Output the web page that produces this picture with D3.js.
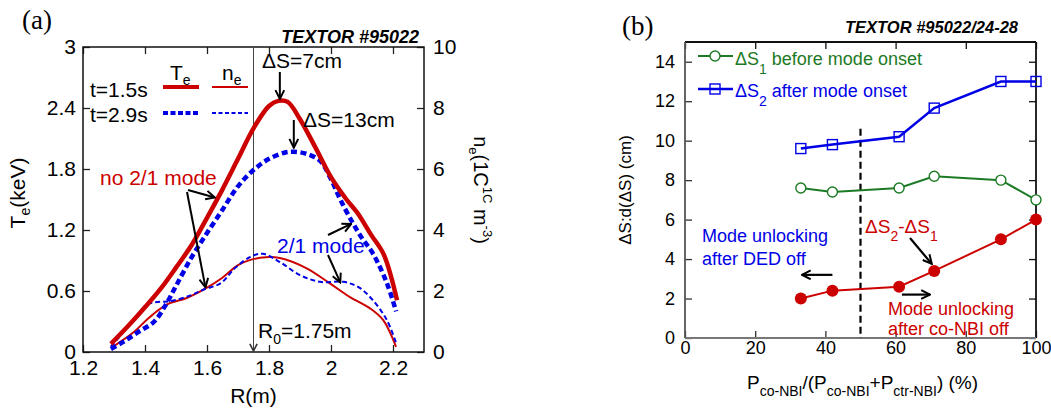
<!DOCTYPE html>
<html>
<head>
<meta charset="utf-8">
<script src="https://cdn.jsdelivr.net/npm/d3@7"></script>
<style>
  body { margin: 0; background: #fff; }
  svg { display: block; font-family: "Liberation Sans", Arial, sans-serif; }
</style>
</head>
<body>
<svg id="fig" width="1051" height="412"></svg>
<script>
// ---- Panel (a): profiles, [R (m), value] ----
const te15 = [[1.29,0.08],[1.35,0.27],[1.40,0.44],[1.45,0.62],[1.50,0.83],[1.55,1.05],[1.60,1.32],
  [1.65,1.60],[1.70,1.90],[1.75,2.20],[1.80,2.42],[1.83,2.47],[1.86,2.46],[1.90,2.29],[1.95,2.01],
  [2.00,1.72],[2.05,1.50],[2.085,1.37],[2.13,1.15],[2.17,0.96],[2.213,0.51]];
const te29 = [[1.29,0.03],[1.33,0.10],[1.38,0.20],[1.43,0.30],[1.47,0.48],[1.50,0.65],[1.55,0.93],
  [1.60,1.17],[1.65,1.40],[1.70,1.63],[1.75,1.79],[1.80,1.90],[1.85,1.96],[1.88,1.97],[1.92,1.95],
  [1.965,1.88],[2.00,1.70],[2.03,1.50],[2.07,1.27],[2.10,1.12],[2.135,0.97],[2.18,0.68],[2.21,0.40]];
const ne15 = [[1.29,0.13],[1.36,0.62],[1.405,1.05],[1.44,1.35],[1.48,1.60],[1.535,1.77],[1.59,2.05],
  [1.645,2.40],[1.70,2.85],[1.74,3.02],[1.79,3.11],[1.835,3.08],[1.92,2.75],[1.995,2.26],[2.06,1.81],
  [2.126,1.43],[2.168,1.05],[2.21,0.17]];
const ne29 = [[1.29,0.18],[1.33,0.65],[1.37,1.15],[1.405,1.55],[1.44,1.64],[1.48,1.66],[1.545,1.85],
  [1.59,2.05],[1.645,2.26],[1.69,2.75],[1.74,3.12],[1.78,3.22],[1.835,2.95],[1.90,2.52],[1.965,2.30],
  [2.04,2.30],[2.09,2.12],[2.135,1.70],[2.18,1.05],[2.21,0.30]];
const rTicks = [1.2, 1.4, 1.6, 1.8, 2, 2.2];
const teTicks = [0, 0.6, 1.2, 1.8, 2.4, 3];
const neTicks = [0, 2, 4, 6, 8, 10];

// ---- Panel (b): widths vs co-NBI fraction ----
const power = [33, 42, 61, 71, 90, 100];
const dS1 = [7.6, 7.4, 7.6, 8.2, 8.0, 7.0];
const dS2 = [9.6, 9.8, 10.2, 11.65, 13.0, 13.0];
const dDiff = [2.0, 2.4, 2.6, 3.4, 5.0, 6.0];
const pTicks = [0, 20, 40, 60, 80, 100];
const dsTicks = [0, 2, 4, 6, 8, 10, 12, 14];

const RED = "#cc0000", BLUE = "#0000e6", GREEN = "#1d7a24";
const SERIF = "'Liberation Serif', 'Times New Roman', serif";

const svg = d3.select("#fig");

// arrow head
const defs = svg.append("defs");
function marker(id, color, size) {
  defs.append("marker")
    .attr("id", id).attr("viewBox", "0 0 10 10")
    .attr("refX", 9).attr("refY", 5)
    .attr("markerWidth", size).attr("markerHeight", size)
    .attr("markerUnits", "userSpaceOnUse").attr("orient", "auto")
    .append("path").attr("d", "M1,1 L9,5 L1,9")
    .attr("fill", "none").attr("stroke", color).attr("stroke-width", 1.8);
}
marker("arr", "#000", 11);
marker("arrGray", "#333", 9);

function arrow(g, x1, y1, x2, y2, w = 2, id = "arr", color = "#000") {
  g.append("line").attr("x1", x1).attr("y1", y1).attr("x2", x2).attr("y2", y2)
    .attr("stroke", color).attr("stroke-width", w).attr("marker-end", `url(#${id})`);
}

function styleAxis(g, size, color) {
  g.select(".domain").remove();
  g.selectAll(".tick line").attr("stroke", color).attr("stroke-width", 1.3);
  g.selectAll(".tick text").attr("fill", "#000").attr("font-size", size)
    .attr("font-family", "'Liberation Sans', Arial, sans-serif");
}

// =================== Panel (a) ===================
const A = { l: 83, r: 424, t: 47, b: 352 };
const xA = d3.scaleLinear([1.2, 2.3], [A.l, A.r]);
const yTe = d3.scaleLinear([0, 3], [A.b, A.t]);
const yNe = d3.scaleLinear([0, 10], [A.b, A.t]);
const ga = svg.append("g");

ga.append("g").attr("transform", `translate(0,${A.b})`)
  .call(d3.axisBottom(xA).tickValues(rTicks).tickFormat(d3.format("")).tickSizeInner(-7).tickSizeOuter(0).tickPadding(8))
  .call(g => styleAxis(g, 21, "#222"));
ga.append("g").attr("transform", `translate(0,${A.t})`)
  .call(d3.axisTop(xA).tickValues(rTicks).tickFormat("").tickSizeInner(-7).tickSizeOuter(0))
  .call(g => styleAxis(g, 21, "#222"));
ga.append("g").attr("transform", `translate(${A.l},0)`)
  .call(d3.axisLeft(yTe).tickValues(teTicks).tickFormat(d3.format("")).tickSizeInner(-7).tickSizeOuter(0).tickPadding(7))
  .call(g => styleAxis(g, 21, "#222"));
ga.append("g").attr("transform", `translate(${A.r},0)`)
  .call(d3.axisRight(yNe).tickValues(neTicks).tickSizeInner(-7).tickSizeOuter(0).tickPadding(9))
  .call(g => styleAxis(g, 21, "#222"));
ga.append("rect").attr("x", A.l).attr("y", A.t).attr("width", A.r - A.l).attr("height", A.b - A.t)
  .attr("fill", "none").attr("stroke", "#111").attr("stroke-width", 1.5);

// R0 line
ga.append("line").attr("x1", xA(1.75)).attr("x2", xA(1.75)).attr("y1", A.t).attr("y2", A.b - 1)
  .attr("stroke", "#444").attr("stroke-width", 1).attr("marker-end", "url(#arrGray)");

const lineTe = d3.line().x(d => xA(d[0])).y(d => yTe(d[1])).curve(d3.curveCatmullRom);
const lineNe = d3.line().x(d => xA(d[0])).y(d => yNe(d[1])).curve(d3.curveCatmullRom);

ga.append("path").attr("d", lineNe(ne15)).attr("fill", "none").attr("stroke", RED).attr("stroke-width", 2);
ga.append("path").attr("d", lineNe(ne29)).attr("fill", "none").attr("stroke", BLUE).attr("stroke-width", 2)
  .attr("stroke-dasharray", "5,3");
ga.append("path").attr("d", lineTe(te29)).attr("fill", "none").attr("stroke", BLUE).attr("stroke-width", 4.5)
  .attr("stroke-dasharray", "6,3.5");
ga.append("path").attr("d", lineTe(te15)).attr("fill", "none").attr("stroke", RED).attr("stroke-width", 4.5);

// legend
const legA = ga.append("g").attr("font-size", 21);
legA.append("text").attr("x", 170).attr("y", 80).text("T")
  .append("tspan").attr("font-size", 14).attr("dy", 5).text("e");
legA.append("text").attr("x", 222).attr("y", 80).text("n")
  .append("tspan").attr("font-size", 14).attr("dy", 5).text("e");
legA.append("text").attr("x", 90).attr("y", 97).text("t=1.5s");
legA.append("text").attr("x", 90).attr("y", 122).text("t=2.9s");
legA.append("line").attr("x1", 163).attr("x2", 199).attr("y1", 87).attr("y2", 87).attr("stroke", RED).attr("stroke-width", 4);
legA.append("line").attr("x1", 212).attr("x2", 248).attr("y1", 87).attr("y2", 87).attr("stroke", RED).attr("stroke-width", 2);
legA.append("line").attr("x1", 163).attr("x2", 199).attr("y1", 113).attr("y2", 113).attr("stroke", BLUE).attr("stroke-width", 4).attr("stroke-dasharray", "5,2.5");
legA.append("line").attr("x1", 212).attr("x2", 248).attr("y1", 113).attr("y2", 113).attr("stroke", BLUE).attr("stroke-width", 2).attr("stroke-dasharray", "4,2.5");

// labels
ga.append("text").attr("x", 22).attr("y", 29).attr("font-size", 27)
  .style("font-family", SERIF).text("(a)");
ga.append("text").attr("x", 419).attr("y", 43).attr("text-anchor", "end").attr("font-size", 18)
  .attr("font-weight", "bold").attr("font-style", "italic").text("TEXTOR #95022");
ga.append("text").attr("x", xA(1.75)).attr("y", 403).attr("text-anchor", "middle").attr("font-size", 21).text("R(m)");

const teLab = ga.append("text").attr("transform", `translate(25,193) rotate(-90)`)
  .attr("text-anchor", "middle").attr("font-size", 21);
teLab.append("tspan").text("T");
teLab.append("tspan").attr("font-size", 14).attr("dy", 5).text("e");
teLab.append("tspan").attr("dy", -5).text("(keV)");

const neLab = ga.append("text").attr("transform", `translate(474,190) rotate(90)`)
  .attr("text-anchor", "middle").attr("font-size", 20);
neLab.append("tspan").text("n");
neLab.append("tspan").attr("font-size", 13).attr("dy", 5).text("e");
neLab.append("tspan").attr("dy", -5).text("(1C");
neLab.append("tspan").attr("font-size", 13).attr("dy", -9).text("1C");
neLab.append("tspan").attr("dy", 9).text(" m");
neLab.append("tspan").attr("font-size", 13).attr("dy", -9).text("-3");
neLab.append("tspan").attr("dy", 9).text(")");

// annotations
const ann = ga.append("g").attr("font-size", 21);
ann.append("text").attr("x", 262).attr("y", 68).text("ΔS=7cm");
arrow(ann, xA(1.835), 72, xA(1.835), yTe(2.47) - 2);
ann.append("text").attr("x", 303).attr("y", 127).text("ΔS=13cm");
arrow(ann, xA(1.88), 120, xA(1.88), yTe(1.97) - 4);
ann.append("text").attr("x", 100).attr("y", 185).attr("fill", RED).text("no 2/1 mode");
arrow(ann, 188, 190, xA(1.625), yTe(1.52));
arrow(ann, 187, 192, xA(1.595), yNe(2.12));
ann.append("text").attr("x", 277).attr("y", 253).attr("fill", BLUE).text("2/1 mode");
arrow(ann, 328, 235, xA(2.065), yTe(1.26));
arrow(ann, 328, 255, xA(2.03), yNe(2.28));
const r0 = ann.append("text").attr("x", 258).attr("y", 338);
r0.append("tspan").text("R");
r0.append("tspan").attr("font-size", 14).attr("dy", 6).text("0");
r0.append("tspan").attr("dy", -6).text("=1.75m");

// =================== Panel (b) ===================
const B = { l: 685, r: 1036, t: 42, b: 338 };
const xB = d3.scaleLinear([0, 100], [B.l, B.r]);
const yB = d3.scaleLinear([0, 15], [B.b, B.t]);
const gb = svg.append("g");

gb.append("g").attr("transform", `translate(0,${B.b})`)
  .call(d3.axisBottom(xB).tickValues(pTicks).tickSizeInner(-7).tickSizeOuter(0).tickPadding(3))
  .call(g => styleAxis(g, 18, "#333"));
gb.append("g").attr("transform", `translate(0,${B.t})`)
  .call(d3.axisTop(xB).tickValues(pTicks).tickFormat("").tickSizeInner(-7).tickSizeOuter(0))
  .call(g => styleAxis(g, 18, "#111"));
gb.append("g").attr("transform", `translate(${B.l},0)`)
  .call(d3.axisLeft(yB).tickValues(dsTicks).tickSizeInner(-7).tickSizeOuter(0).tickPadding(10))
  .call(g => styleAxis(g, 18, "#333"));
gb.append("g").attr("transform", `translate(${B.r},0)`)
  .call(d3.axisRight(yB).tickValues(dsTicks).tickFormat("").tickSizeInner(-7).tickSizeOuter(0))
  .call(g => styleAxis(g, 18, "#111"));
gb.append("line").attr("x1", B.l).attr("x2", B.r).attr("y1", B.t).attr("y2", B.t).attr("stroke", "#111").attr("stroke-width", 1.8);
gb.append("line").attr("x1", B.r).attr("x2", B.r).attr("y1", B.t).attr("y2", B.b).attr("stroke", "#111").attr("stroke-width", 1.8);
gb.append("line").attr("x1", B.l).attr("x2", B.r).attr("y1", B.b).attr("y2", B.b).attr("stroke", "#777").attr("stroke-width", 2);
gb.append("line").attr("x1", B.l).attr("x2", B.l).attr("y1", B.t).attr("y2", B.b).attr("stroke", "#555").attr("stroke-width", 1.8);

// dashed divider at 50 %
gb.append("line").attr("x1", xB(50)).attr("x2", xB(50)).attr("y1", yB(10.6)).attr("y2", B.b)
  .attr("stroke", "#000").attr("stroke-width", 2.2).attr("stroke-dasharray", "7,4");

const lineB = vals => d3.line().x((d, i) => xB(power[i])).y(d => yB(d))(vals);

gb.append("path").attr("d", lineB(dS1)).attr("fill", "none").attr("stroke", GREEN).attr("stroke-width", 2);
gb.selectAll("circle.s1").data(dS1).join("circle").attr("class", "s1")
  .attr("cx", (d, i) => xB(power[i])).attr("cy", d => yB(d)).attr("r", 5)
  .attr("fill", "#fff").attr("stroke", GREEN).attr("stroke-width", 1.4);

gb.append("path").attr("d", lineB(dS2)).attr("fill", "none").attr("stroke", BLUE).attr("stroke-width", 2.5);
gb.selectAll("rect.s2").data(dS2).join("rect").attr("class", "s2")
  .attr("x", (d, i) => xB(power[i]) - 5).attr("y", d => yB(d) - 5).attr("width", 10).attr("height", 10)
  .attr("fill", "none").attr("stroke", BLUE).attr("stroke-width", 1.4);

gb.append("path").attr("d", lineB(dDiff)).attr("fill", "none").attr("stroke", RED).attr("stroke-width", 2);
gb.selectAll("circle.sd").data(dDiff).join("circle").attr("class", "sd")
  .attr("cx", (d, i) => xB(power[i])).attr("cy", d => yB(d)).attr("r", 6)
  .attr("fill", RED);

// legend
const legB = gb.append("g").attr("font-size", 18);
legB.append("line").attr("x1", 698).attr("x2", 733).attr("y1", 56).attr("y2", 56).attr("stroke", GREEN).attr("stroke-width", 2);
legB.append("circle").attr("cx", 715).attr("cy", 56).attr("r", 5).attr("fill", "#fff").attr("stroke", GREEN).attr("stroke-width", 1.4);
const l1 = legB.append("text").attr("x", 735).attr("y", 65).attr("fill", GREEN);
l1.append("tspan").text("ΔS");
l1.append("tspan").attr("font-size", 14).attr("dy", 9).text("1");
l1.append("tspan").attr("dy", -9).text(" before mode onset");
legB.append("line").attr("x1", 698).attr("x2", 733).attr("y1", 89).attr("y2", 89).attr("stroke", BLUE).attr("stroke-width", 2.5);
legB.append("rect").attr("x", 710).attr("y", 84).attr("width", 10).attr("height", 10).attr("fill", "none").attr("stroke", BLUE).attr("stroke-width", 1.4);
const l2 = legB.append("text").attr("x", 735).attr("y", 97).attr("fill", BLUE);
l2.append("tspan").text("ΔS");
l2.append("tspan").attr("font-size", 14).attr("dy", 9).text("2");
l2.append("tspan").attr("dy", -9).text(" after mode onset");

// labels
gb.append("text").attr("x", 622).attr("y", 35).attr("font-size", 27)
  .style("font-family", SERIF).text("(b)");
gb.append("text").attr("x", 1018).attr("y", 33).attr("text-anchor", "end").attr("font-size", 16.5)
  .attr("font-weight", "bold").attr("font-style", "italic").text("TEXTOR #95022/24-28");
gb.append("text").attr("transform", `translate(631,190) rotate(-90)`).attr("text-anchor", "middle")
  .attr("font-size", 17).text("ΔS:d(ΔS) (cm)");

const xl = gb.append("text").attr("x", 747).attr("y", 389).attr("font-size", 19);
xl.append("tspan").text("P");
xl.append("tspan").attr("font-size", 14).attr("dy", 7).text("co-NBI");
xl.append("tspan").attr("dy", -7).text("/(P");
xl.append("tspan").attr("font-size", 14).attr("dy", 7).text("co-NBI");
xl.append("tspan").attr("dy", -7).text("+P");
xl.append("tspan").attr("font-size", 14).attr("dy", 7).text("ctr-NBI");
xl.append("tspan").attr("dy", -7).text(") (%)");

// annotations
const annB = gb.append("g").attr("font-size", 18);
annB.append("text").attr("x", 702).attr("y", 242).attr("fill", BLUE).text("Mode unlocking");
annB.append("text").attr("x", 702).attr("y", 265).attr("fill", BLUE).text("after DED off");
arrow(annB, xB(42), yB(3.2), xB(33.3), yB(3.2), 2.2);
const dd = annB.append("text").attr("x", 865).attr("y", 233).attr("fill", RED).attr("font-size", 19);
dd.append("tspan").text("ΔS");
dd.append("tspan").attr("font-size", 14).attr("dy", 8).text("2");
dd.append("tspan").attr("dy", -8).text("-ΔS");
dd.append("tspan").attr("font-size", 14).attr("dy", 8).text("1");
arrow(annB, 910, 238, xB(70.3), yB(3.4) - 7, 2.2);
arrow(annB, xB(61.8), yB(2.2), xB(69.8), yB(2.2), 2.2);
annB.append("text").attr("x", 888).attr("y", 315).attr("fill", RED).text("Mode unlocking");
annB.append("text").attr("x", 888).attr("y", 335).attr("fill", RED).text("after co-NBI off");
</script>
</body>
</html>
